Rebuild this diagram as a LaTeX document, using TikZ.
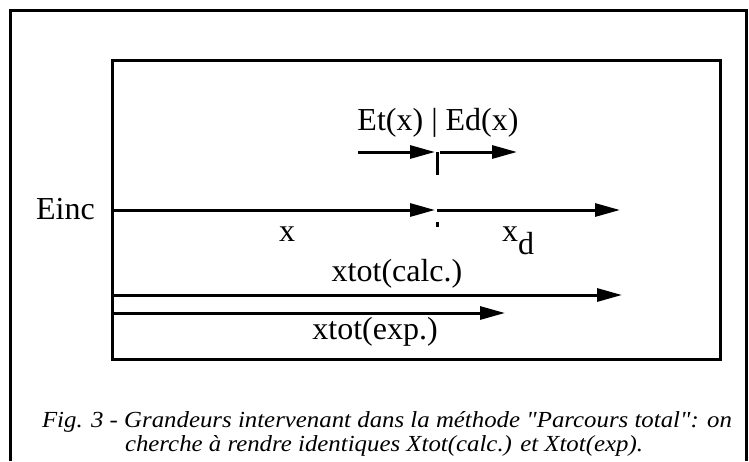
\documentclass[tikz,border=0pt]{standalone}
\usepackage{fontspec}
\setmainfont{Liberation Serif}
\newfontfamily\capfont[FakeStretch=1.08]{Liberation Serif}
\usetikzlibrary{arrows.meta}
\definecolor{Ink}{HTML}{000000}

\begin{document}
\begin{tikzpicture}[x=1pt,y=-1pt,
    lbl/.style={text=Ink,inner sep=0pt,font=\fontsize{32}{36}\selectfont},
    caplbl/.style={text=Ink,inner sep=0pt,font=\capfont\itshape\fontsize{23}{26}\selectfont},
    flow/.style={draw=Ink,line width=3pt,-{Triangle[length=25pt,width=13pt]}}]
  \useasboundingbox (0,0) rectangle (749,461);
  % frames
  \draw[Ink,line width=3pt] (10,461) -- (10,10.5) -- (746,10.5) -- (746,461);
  \draw[Ink,line width=3pt] (112,60) rectangle (720,359);
  % end points
  \coordinate (inc) at (112,210);
  \coordinate (split) at (437,210);
  \coordinate (dend) at (620,210);
  \coordinate (tl) at (358,152);
  \coordinate (tm) at (437,152);
  \coordinate (tr) at (517,152);
  \coordinate (tick) at (437,175);
  \coordinate (calcs) at (112,295);
  \coordinate (calce) at (622,295);
  \coordinate (exps) at (112,313);
  \coordinate (expe) at (505,313);
  % labels
  \node[lbl,anchor=base east] (einc) at (95,219) {Einc};
  \node[lbl,anchor=base] (etd) at (438,130) {Et(x) | Ed(x)};
  \node[lbl,anchor=base] (xlab) at (287,241) {x};
  \node[lbl,anchor=base west] (xdlab) at (502,241) {x\raisebox{-13pt}{d}};
  \node[lbl,anchor=base] (calclab) at (397,281) {xtot(calc.)};
  \node[lbl,anchor=base] (explab) at (375,339) {xtot(exp.)};
  \node[caplbl,anchor=base] (capa) at (387,427) {Fig. 3 - Grandeurs intervenant dans la méthode "Parcours total": on};
  \node[caplbl,anchor=base] (capb) at (384,451) {cherche à rendre identiques Xtot(calc.) et Xtot(exp).};
  % arrows
  \draw[flow] (inc) -- ([xshift=-2pt]split);
  \draw[flow] (split) -- (dend);
  \draw[flow] (tl) -- ([xshift=-2pt]tm);
  \draw[flow] ([xshift=3pt]tm) -- (tr);
  \draw[Ink,line width=3pt] (tm) -- (tick);
  \fill[Ink] ([xshift=-1.5pt,yshift=-12pt]split) rectangle ++(3,5);
  \draw[flow] (calcs) -- (calce);
  \draw[flow] (exps) -- (expe);
\end{tikzpicture}
\end{document}
